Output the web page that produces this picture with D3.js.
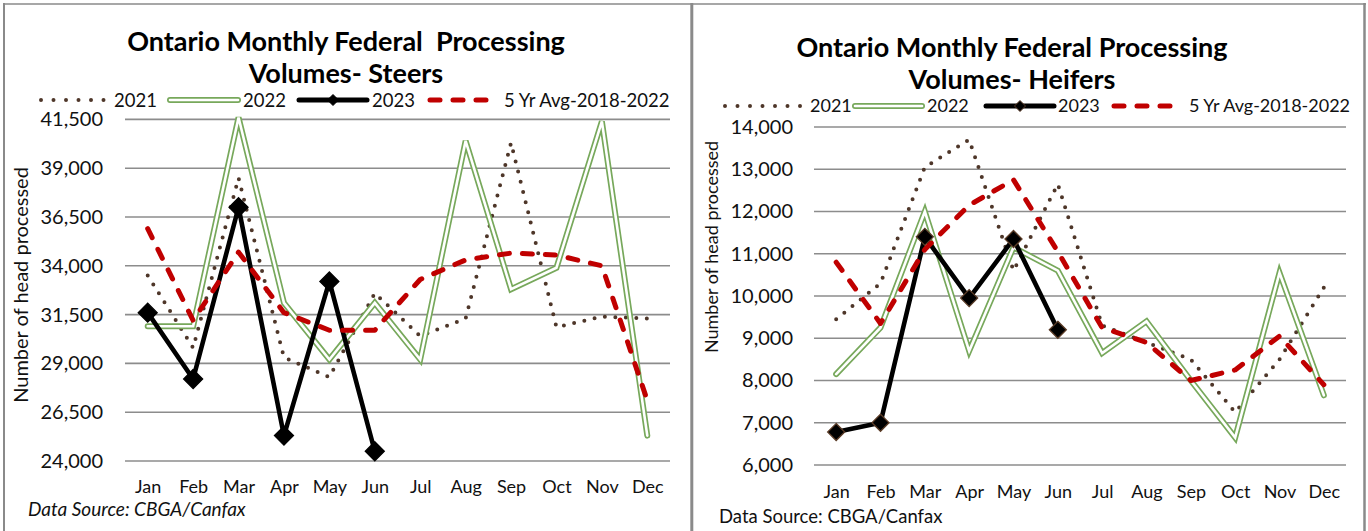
<!DOCTYPE html>
<html>
<head>
<meta charset="utf-8">
<script src="https://cdn.jsdelivr.net/npm/d3@7"></script>
<style>
  html, body { margin: 0; padding: 0; background: #fff; }
  svg { display: block; font-family: Lato, "Open Sans", sans-serif; }
</style>
</head>
<body>
<svg id="chart" width="1368" height="531"></svg>
<script>
// ---------------- DATA ----------------
const months = ["Jan","Feb","Mar","Apr","May","Jun","Jul","Aug","Sep","Oct","Nov","Dec"];
const seriesNames = ["2021", "2022", "2023", "5 Yr Avg-2018-2022"];

const steersTicks = [24000, 26500, 29000, 31500, 34000, 36500, 39000, 41500];
const steers2021 = [33500, 29800, 38500, 29300, 28300, 32600, 30400, 31300, 40300, 30850, 31400, 31300];
const steers2022 = [30900, 30900, 41600, 32100, 29200, 32100, 29200, 40400, 32800, 33900, 41400, 25300];
const steers2023 = [31600, 28200, 37000, 25300, 33200, 24500];
const steersAvg  = [35900, 31200, 34700, 31600, 30700, 30700, 33300, 34300, 34650, 34550, 34000, 27100];

const heifersTicks = [6000, 7000, 8000, 9000, 10000, 11000, 12000, 13000, 14000];
const heifers2021 = [9450, 10300, 13050, 13700, 10600, 12650, 9300, 8900, 8500, 7250, 8500, 10200];
const heifers2022 = [8150, 9250, 12000, 8700, 11150, 10600, 8650, 9400, 8000, 6650, 10550, 7650];
const heifers2023 = [6780, 7000, 11400, 9950, 11350, 9200];
const heifersAvg  = [10800, 9350, 11100, 12150, 12750, 11050, 9250, 8900, 8000, 8250, 9050, 7900];

// ---------------- STYLE ----------------
const C_GRID = "#8c8c8c";
const C_2021 = "#4e3629";
const C_2022 = "#77a85b";
const C_2023 = "#000000";
const C_AVG  = "#c00000";
const C_BORDER = "#8a8a8a";

const svg = d3.select("#chart");

// panel borders
svg.append("line").attr("x1", 4).attr("x2", 4).attr("y1", 3).attr("y2", 531)
  .attr("stroke", C_BORDER).attr("stroke-width", 2);
svg.append("line").attr("x1", 3).attr("x2", 1366).attr("y1", 4).attr("y2", 4)
  .attr("stroke", C_BORDER).attr("stroke-width", 1.5);
svg.append("line").attr("x1", 691.8).attr("x2", 691.8).attr("y1", 3).attr("y2", 531)
  .attr("stroke", C_BORDER).attr("stroke-width", 3);
svg.append("line").attr("x1", 1364.5).attr("x2", 1364.5).attr("y1", 3).attr("y2", 531)
  .attr("stroke", C_BORDER).attr("stroke-width", 2.5);

function diamondPath(r) {
  return `M0,${-r}L${r},0L0,${r}L${-r},0Z`;
}

function drawChart(cfg) {
  const g = svg.append("g");
  const x = d3.scalePoint().domain(months).range([cfg.x0, cfg.x1]).padding(0.5);
  const y = d3.scaleLinear().domain([cfg.ticks[0], cfg.ticks[cfg.ticks.length - 1]]).range([cfg.yb, cfg.yt]);

  // gridlines
  g.append("g").selectAll("line").data(cfg.ticks).join("line")
    .attr("x1", cfg.x0).attr("x2", cfg.x1)
    .attr("y1", d => y(d)).attr("y2", d => y(d))
    .attr("stroke", C_GRID).attr("stroke-width", 1.6);

  // y axis labels
  const ya = g.append("g").attr("transform", `translate(${cfg.x0},0)`)
    .call(d3.axisLeft(y).tickValues(cfg.ticks).tickSize(0).tickPadding(cfg.x0 - cfg.tickX).tickFormat(d3.format(",")));
  ya.select(".domain").remove();
  ya.selectAll("text").attr("font-size", cfg.tickFont).attr("fill", "#111").attr("font-family", "Lato");

  // x axis labels
  const xa = g.append("g").attr("transform", `translate(0,${cfg.yb})`)
    .call(d3.axisBottom(x).tickSize(0).tickPadding(cfg.monthPad));
  xa.select(".domain").remove();
  xa.selectAll("text").attr("font-size", cfg.monthFont).attr("fill", "#111").attr("font-family", "Lato");

  const line = d3.line().x((d, i) => x(months[i])).y(d => y(d));

  // 2021 dotted
  g.append("path").attr("d", line(cfg.s2021)).attr("fill", "none")
    .attr("stroke", C_2021).attr("stroke-width", 4).attr("stroke-linecap", "round")
    .attr("stroke-linejoin", "round").attr("stroke-dasharray", "0 10.5");
  // 2022 double line
  g.append("path").attr("d", line(cfg.s2022)).attr("fill", "none")
    .attr("stroke", C_2022).attr("stroke-width", 6).attr("stroke-linejoin", "miter").attr("stroke-linecap", "round");
  g.append("path").attr("d", line(cfg.s2022)).attr("fill", "none")
    .attr("stroke", "#fff").attr("stroke-width", 2.6).attr("stroke-linejoin", "miter").attr("stroke-linecap", "round");
  // 2023 black with diamonds
  g.append("path").attr("d", line(cfg.s2023)).attr("fill", "none")
    .attr("stroke", C_2023).attr("stroke-width", 4.6).attr("stroke-linejoin", "round");
  g.append("g").selectAll("path").data(cfg.s2023).join("path")
    .attr("transform", (d, i) => `translate(${x(months[i])},${y(d)})`)
    .attr("d", diamondPath(cfg.diamondR))
    .attr("fill", "#000").attr("stroke", cfg.diamondStroke).attr("stroke-width", 1.3);
  // 5 yr avg dashed
  g.append("path").attr("d", line(cfg.sAvg)).attr("fill", "none")
    .attr("stroke", C_AVG).attr("stroke-width", 5).attr("stroke-linecap", "round")
    .attr("stroke-linejoin", "round").attr("stroke-dasharray", "10 13");

  // title
  const t = g.append("text").attr("text-anchor", "middle").attr("font-weight", "bold")
    .attr("font-size", cfg.titleFont).attr("fill", "#000").attr("font-family", "Lato");
  cfg.title.forEach((s, i) => {
    t.append("tspan").attr("x", cfg.titleX).attr("y", cfg.titleY[i]).text(s);
  });

  // legend
  const L = cfg.legend;
  const ly = L.y;
  const lg = g.append("g");
  // 2021
  lg.append("line").attr("x1", L.sym[0][0]).attr("x2", L.sym[0][1]).attr("y1", ly).attr("y2", ly)
    .attr("stroke", C_2021).attr("stroke-width", 4).attr("stroke-linecap", "round").attr("stroke-dasharray", L.dotDash);
  // 2022
  lg.append("line").attr("x1", L.sym[1][0]).attr("x2", L.sym[1][1]).attr("y1", ly).attr("y2", ly)
    .attr("stroke", C_2022).attr("stroke-width", 6).attr("stroke-linecap", "round");
  lg.append("line").attr("x1", L.sym[1][0]).attr("x2", L.sym[1][1]).attr("y1", ly).attr("y2", ly)
    .attr("stroke", "#fff").attr("stroke-width", 2.6).attr("stroke-linecap", "round");
  // 2023
  lg.append("line").attr("x1", L.sym[2][0]).attr("x2", L.sym[2][1]).attr("y1", ly).attr("y2", ly)
    .attr("stroke", C_2023).attr("stroke-width", 5).attr("stroke-linecap", "round");
  lg.append("path").attr("transform", `translate(${(L.sym[2][0] + L.sym[2][1]) / 2},${ly})`)
    .attr("d", diamondPath(5.5)).attr("fill", "#000").attr("stroke", cfg.diamondStroke).attr("stroke-width", 1);
  // avg
  lg.append("line").attr("x1", L.sym[3][0]).attr("x2", L.sym[3][1]).attr("y1", ly).attr("y2", ly)
    .attr("stroke", C_AVG).attr("stroke-width", 5).attr("stroke-linecap", "round").attr("stroke-dasharray", L.avgDash);
  seriesNames.forEach((s, i) => {
    lg.append("text").attr("x", L.text[i]).attr("y", ly).attr("dy", "0.36em")
      .attr("font-size", L.font).attr("fill", "#111").attr("font-family", "Lato").text(s);
  });

  // axis title
  g.append("text").attr("transform", `translate(${cfg.axisTitleX},${cfg.axisTitleY}) rotate(-90)`)
    .attr("text-anchor", "middle").attr("dy", "0.35em")
    .attr("font-size", cfg.axisTitleFont).attr("fill", "#111").attr("font-family", "Lato")
    .text("Number of head processed");

  // source
  g.append("text").attr("x", cfg.srcX).attr("y", cfg.srcY)
    .attr("font-size", cfg.srcFont).attr("font-style", cfg.srcItalic ? "italic" : "normal")
    .attr("fill", "#111").attr("font-family", "Lato").text("Data Source: CBGA/Canfax");
}

drawChart({
  x0: 125, x1: 670, yb: 461, yt: 119.4, ticks: steersTicks, tickX: 103, tickFont: 20,
  monthFont: 18, monthPad: 19,
  s2021: steers2021, s2022: steers2022, s2023: steers2023, sAvg: steersAvg,
  diamondR: 9.5, diamondStroke: "#000",
  title: ["Ontario Monthly Federal\u00a0 Processing", "Volumes- Steers"], titleX: 346, titleY: [51, 83], titleFont: 27,
  legend: { y: 100, font: 18.5, dotDash: "0 12.5", avgDash: "10 13",
    sym: [[41, 105], [170, 238], [299, 367], [430, 490]], text: [114, 243, 372, 504] },
  axisTitleX: 21, axisTitleY: 285, axisTitleFont: 20,
  srcX: 28, srcY: 516, srcFont: 19, srcItalic: true
});

drawChart({
  x0: 814, x1: 1346, yb: 465, yt: 127, ticks: heifersTicks, tickX: 793, tickFont: 20,
  monthFont: 18, monthPad: 20,
  s2021: heifers2021, s2022: heifers2022, s2023: heifers2023, sAvg: heifersAvg,
  diamondR: 8.5, diamondStroke: "#5a3b26",
  title: ["Ontario Monthly Federal Processing", "Volumes- Heifers"], titleX: 1012, titleY: [57, 89], titleFont: 27,
  legend: { y: 106, font: 18, dotDash: "0 12.5", avgDash: "10 13",
    sym: [[725, 805], [855, 922], [986, 1054], [1114, 1177]], text: [810, 927, 1058, 1189] },
  axisTitleX: 712, axisTitleY: 247, axisTitleFont: 18,
  srcX: 719, srcY: 523, srcFont: 18.5, srcItalic: false
});
</script>
</body>
</html>
